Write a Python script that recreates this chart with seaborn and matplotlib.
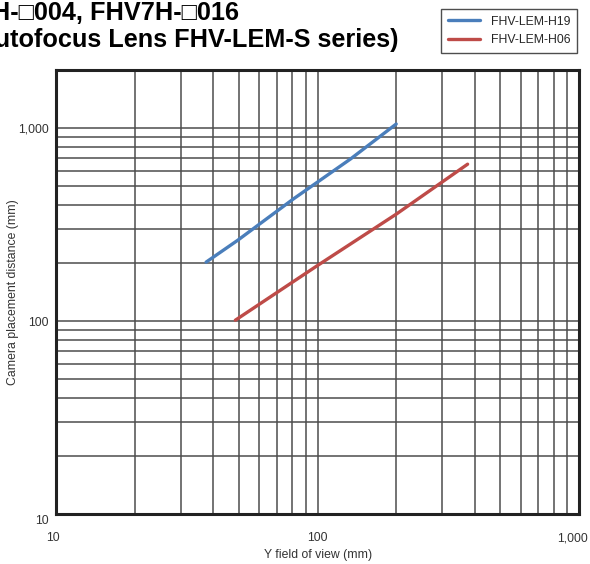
import pandas as pd
import matplotlib
matplotlib.use("Agg")
import matplotlib.pyplot as plt
import matplotlib.transforms as mtransforms
import seaborn as sns
from matplotlib.ticker import FixedLocator, NullFormatter

# ------------------------- DATA ------------------------- #

h19_fov = [37.5, 49.5, 81, 100, 134, 200]
h19_dist = [202, 262, 430, 525, 693, 1050]

h06_fov = [48.5, 100, 200, 375]
h06_dist = [101, 194, 358, 650]

series_names = ["FHV-LEM-H19", "FHV-LEM-H06"]
series_colors = ["#4a7ebb", "#be4b48"]

major_ticks = [10, 100, 1000]
major_labels = ["10", "100", "1,000"]
minor_ticks = [20, 30, 40, 50, 60, 70, 80, 90, 200, 300, 400, 500, 600, 700, 800, 900]

title_lines = ["FHV7H-\u25a1004, FHV7H-\u25a1016", "(Autofocus Lens FHV-LEM-S series)"]

# ------------------------- PLOT ------------------------- #

sns.set_style("white")
plt.rcParams["font.family"] = ["Liberation Sans", "DejaVu Sans"]

df = pd.concat([
    pd.DataFrame({"fov": h19_fov, "dist": h19_dist, "lens": series_names[0]}),
    pd.DataFrame({"fov": h06_fov, "dist": h06_dist, "lens": series_names[1]}),
])

fig = plt.figure(figsize=(5.9, 5.64), dpi=100)
ax = fig.add_axes([56 / 590, 1 - 514 / 564, 523 / 590, 444 / 564])

sns.lineplot(data=df, x="fov", y="dist", hue="lens", palette=series_colors,
             estimator=None, sort=False, linewidth=2.4, ax=ax, zorder=3)

ax.set_xscale("log")
ax.set_yscale("log")
ax.set_xlim(10, 1000)
ax.set_ylim(10, 2000)

for axis in (ax.xaxis, ax.yaxis):
    axis.set_major_locator(FixedLocator(major_ticks))
    axis.set_minor_locator(FixedLocator(minor_ticks))
    axis.set_minor_formatter(NullFormatter())
ax.set_xticklabels(major_labels)
ax.set_yticklabels(major_labels)

ax.grid(True, which="both", color="#4d4d4d", linewidth=1.1)
ax.tick_params(which="both", length=0, labelsize=8.8, colors="#333333")
ax.tick_params(axis="x", pad=13)
ax.tick_params(axis="y", pad=5)

# nudge the end labels the way the reference places them
xlabels = ax.get_xticklabels()
xlabels[0].set_transform(xlabels[0].get_transform() +
                         mtransforms.ScaledTranslation(-3 / 100, 0, fig.dpi_scale_trans))
xlabels[-1].set_transform(xlabels[-1].get_transform() +
                          mtransforms.ScaledTranslation(-7 / 100, 0, fig.dpi_scale_trans))
ylabels = ax.get_yticklabels()
ylabels[0].set_transform(ylabels[0].get_transform() +
                         mtransforms.ScaledTranslation(0, -5 / 100, fig.dpi_scale_trans))

for side, spine in ax.spines.items():
    spine.set_visible(True)
    spine.set_color("#222222")
    spine.set_linewidth(2.2)

ax.set_xlabel("")
ax.set_ylabel("")
fig.text(318 / 590, 1 - 555 / 564, "Y field of view (mm)", ha="center", va="center",
         fontsize=8.8, color="#333333")
fig.text(13.5 / 590, 1 - 292 / 564, "Camera placement distance (mm)", ha="center",
         va="center", rotation=90, fontsize=8.8, color="#333333")

# legend at top right, outside the plot
handles, labels = ax.get_legend_handles_labels()
ax.get_legend().remove()
leg = fig.legend(handles, labels, loc="upper right",
                 bbox_to_anchor=(577 / 590, 1 - 9 / 564), fontsize=8.8,
                 frameon=True, fancybox=False, handlelength=2.6,
                 borderpad=0.55, labelspacing=0.55, handletextpad=0.9,
                 borderaxespad=0)
leg.get_frame().set_edgecolor("#222222")
leg.get_frame().set_linewidth(1.0)
for line in leg.get_lines():
    line.set_linewidth(2.4)

# title is clipped at the left edge of the picture, as in the source
fig.text(239 / 590, 1 - 20 / 564, title_lines[0], ha="right", va="baseline",
         fontsize=18.2, fontweight="bold", color="black")
fig.text(398 / 590, 1 - 47.5 / 564, title_lines[1], ha="right", va="baseline",
         fontsize=18.2, fontweight="bold", color="black")

fig.savefig("out.png", dpi=100)
